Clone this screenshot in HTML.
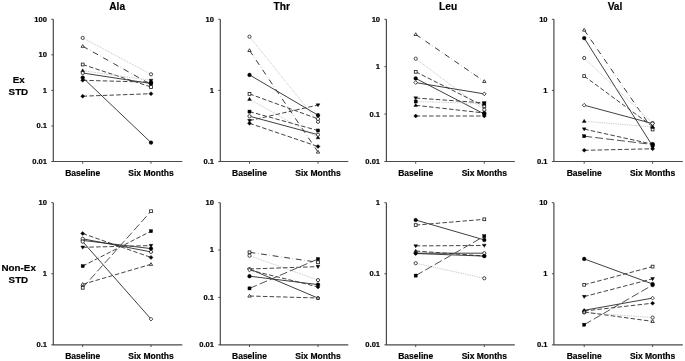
<!DOCTYPE html>
<html><head><meta charset="utf-8"><style>
html,body{margin:0;padding:0;background:#fff;}
body{width:685px;height:361px;overflow:hidden;}
svg{display:block;will-change:transform;filter:blur(0.3px);}
text{font-family:"Liberation Sans",sans-serif;fill:#000;stroke:#000;stroke-width:0.18px;}
.tk{font-size:7.6px;font-weight:bold;text-anchor:end;}
.xl{font-size:8.5px;font-weight:bold;text-anchor:middle;}
.ti{font-size:10.2px;font-weight:bold;text-anchor:middle;}
.rl{font-size:9.8px;font-weight:bold;text-anchor:middle;}
</style></head><body>
<svg width="685" height="361" viewBox="0 0 685 361">
<rect width="685" height="361" fill="#fff"/>
<path d="M53.30,19.30 V161.50 H182.30" fill="none" stroke="#4a4a4a" stroke-width="1.2"/>
<path d="M51.30,19.30 H53.30" stroke="#4a4a4a" stroke-width="1"/>
<text x="47.00" y="21.70" class="tk">100</text>
<path d="M51.30,54.85 H53.30" stroke="#4a4a4a" stroke-width="1"/>
<text x="47.00" y="57.25" class="tk">10</text>
<path d="M51.30,90.40 H53.30" stroke="#4a4a4a" stroke-width="1"/>
<text x="47.00" y="92.80" class="tk">1</text>
<path d="M51.30,125.95 H53.30" stroke="#4a4a4a" stroke-width="1"/>
<text x="47.00" y="128.35" class="tk">0.1</text>
<path d="M51.30,161.50 H53.30" stroke="#4a4a4a" stroke-width="1"/>
<text x="47.00" y="163.90" class="tk">0.01</text>
<path d="M82.70,161.50 V163.70" stroke="#4a4a4a" stroke-width="1"/>
<path d="M151.00,161.50 V163.70" stroke="#4a4a4a" stroke-width="1"/>
<text x="82.70" y="175.90" class="xl">Baseline</text>
<text x="151.00" y="175.90" class="xl">Six Months</text>
<line x1="82.70" y1="37.90" x2="151.00" y2="74.30" stroke="#b4b4b4" stroke-width="0.8" stroke-dasharray="0.9 0.9"/>
<line x1="82.70" y1="46.20" x2="151.00" y2="84.50" stroke="#3a3a3a" stroke-width="1" stroke-dasharray="5.8 2.8 0.3 2.8"/>
<line x1="82.70" y1="64.50" x2="151.00" y2="87.00" stroke="#444" stroke-width="1" stroke-dasharray="4.5 2.2"/>
<line x1="82.70" y1="70.70" x2="151.00" y2="80.40" stroke="#b4b4b4" stroke-width="0.8" stroke-dasharray="0.9 0.9"/>
<line x1="82.70" y1="73.00" x2="151.00" y2="83.50" stroke="#2a2a2a" stroke-width="0.9"/>
<line x1="82.70" y1="77.60" x2="151.00" y2="142.60" stroke="#2a2a2a" stroke-width="0.9"/>
<line x1="82.70" y1="80.30" x2="151.00" y2="82.20" stroke="#444" stroke-width="1" stroke-dasharray="4.5 2.2"/>
<line x1="82.70" y1="96.20" x2="151.00" y2="93.70" stroke="#444" stroke-width="1" stroke-dasharray="4.5 2.2"/>
<circle cx="82.70" cy="37.90" r="1.60" fill="#fff" stroke="#1a1a1a" stroke-width="0.8"/>
<circle cx="151.00" cy="74.30" r="1.60" fill="#fff" stroke="#1a1a1a" stroke-width="0.8"/>
<polygon points="82.70,44.52 84.40,47.32 81.00,47.32" fill="#fff" stroke="#1a1a1a" stroke-width="0.8"/>
<polygon points="151.00,86.18 152.70,83.38 149.30,83.38" fill="#fff" stroke="#1a1a1a" stroke-width="0.8"/>
<rect x="81.30" y="63.10" width="2.80" height="2.80" fill="#fff" stroke="#1a1a1a" stroke-width="0.8"/>
<rect x="149.60" y="85.60" width="2.80" height="2.80" fill="#fff" stroke="#1a1a1a" stroke-width="0.8"/>
<polygon points="82.70,68.84 84.60,71.94 80.80,71.94" fill="#000" stroke="#000" stroke-width="0.4"/>
<polygon points="151.00,82.26 152.90,79.16 149.10,79.16" fill="#000" stroke="#000" stroke-width="0.4"/>
<circle cx="82.70" cy="73.00" r="1.60" fill="#fff" stroke="#1a1a1a" stroke-width="0.8"/>
<rect x="149.45" y="81.95" width="3.10" height="3.10" fill="#000" stroke="#000" stroke-width="0.4"/>
<circle cx="82.70" cy="77.60" r="1.85" fill="#000" stroke="#000" stroke-width="0.4"/>
<circle cx="151.00" cy="142.60" r="1.85" fill="#000" stroke="#000" stroke-width="0.4"/>
<polygon points="82.70,78.30 84.70,80.30 82.70,82.30 80.70,80.30" fill="#000" stroke="#000" stroke-width="0.4"/>
<circle cx="151.00" cy="82.20" r="1.85" fill="#000" stroke="#000" stroke-width="0.4"/>
<polygon points="82.70,94.20 84.70,96.20 82.70,98.20 80.70,96.20" fill="#000" stroke="#000" stroke-width="0.4"/>
<polygon points="151.00,91.70 153.00,93.70 151.00,95.70 149.00,93.70" fill="#000" stroke="#000" stroke-width="0.4"/>
<path d="M220.30,19.30 V161.50 H348.30" fill="none" stroke="#4a4a4a" stroke-width="1.2"/>
<path d="M218.30,19.30 H220.30" stroke="#4a4a4a" stroke-width="1"/>
<text x="214.00" y="21.70" class="tk">10</text>
<path d="M218.30,90.40 H220.30" stroke="#4a4a4a" stroke-width="1"/>
<text x="214.00" y="92.80" class="tk">1</text>
<path d="M218.30,161.50 H220.30" stroke="#4a4a4a" stroke-width="1"/>
<text x="214.00" y="163.90" class="tk">0.1</text>
<path d="M249.50,161.50 V163.70" stroke="#4a4a4a" stroke-width="1"/>
<path d="M318.00,161.50 V163.70" stroke="#4a4a4a" stroke-width="1"/>
<text x="249.50" y="175.90" class="xl">Baseline</text>
<text x="318.00" y="175.90" class="xl">Six Months</text>
<line x1="249.50" y1="36.70" x2="318.00" y2="121.80" stroke="#b4b4b4" stroke-width="0.8" stroke-dasharray="0.9 0.9"/>
<line x1="249.50" y1="50.40" x2="318.00" y2="152.00" stroke="#3a3a3a" stroke-width="1" stroke-dasharray="5.8 2.8 0.3 2.8"/>
<line x1="249.50" y1="74.90" x2="318.00" y2="115.20" stroke="#2a2a2a" stroke-width="0.9"/>
<line x1="249.50" y1="93.90" x2="318.00" y2="118.90" stroke="#444" stroke-width="1" stroke-dasharray="4.5 2.2"/>
<line x1="249.50" y1="99.20" x2="318.00" y2="137.60" stroke="#b4b4b4" stroke-width="0.8" stroke-dasharray="0.9 0.9"/>
<line x1="249.50" y1="111.60" x2="318.00" y2="130.50" stroke="#444" stroke-width="1" stroke-dasharray="4.5 2.2"/>
<line x1="249.50" y1="116.20" x2="318.00" y2="134.70" stroke="#2a2a2a" stroke-width="0.9"/>
<line x1="249.50" y1="120.60" x2="318.00" y2="105.00" stroke="#444" stroke-width="1" stroke-dasharray="4.5 2.2"/>
<line x1="249.50" y1="123.30" x2="318.00" y2="146.50" stroke="#444" stroke-width="1" stroke-dasharray="4.5 2.2"/>
<circle cx="249.50" cy="36.70" r="1.60" fill="#fff" stroke="#1a1a1a" stroke-width="0.8"/>
<circle cx="318.00" cy="121.80" r="1.60" fill="#fff" stroke="#1a1a1a" stroke-width="0.8"/>
<polygon points="249.50,48.72 251.20,51.52 247.80,51.52" fill="#fff" stroke="#1a1a1a" stroke-width="0.8"/>
<polygon points="318.00,150.32 319.70,153.12 316.30,153.12" fill="#fff" stroke="#1a1a1a" stroke-width="0.8"/>
<circle cx="249.50" cy="74.90" r="1.85" fill="#000" stroke="#000" stroke-width="0.4"/>
<circle cx="318.00" cy="115.20" r="1.85" fill="#000" stroke="#000" stroke-width="0.4"/>
<rect x="248.10" y="92.50" width="2.80" height="2.80" fill="#fff" stroke="#1a1a1a" stroke-width="0.8"/>
<circle cx="318.00" cy="118.90" r="1.60" fill="#fff" stroke="#1a1a1a" stroke-width="0.8"/>
<polygon points="249.50,97.34 251.40,100.44 247.60,100.44" fill="#000" stroke="#000" stroke-width="0.4"/>
<polygon points="318.00,135.74 319.90,138.84 316.10,138.84" fill="#000" stroke="#000" stroke-width="0.4"/>
<rect x="247.95" y="110.05" width="3.10" height="3.10" fill="#000" stroke="#000" stroke-width="0.4"/>
<rect x="316.45" y="128.95" width="3.10" height="3.10" fill="#000" stroke="#000" stroke-width="0.4"/>
<circle cx="249.50" cy="116.20" r="1.60" fill="#fff" stroke="#1a1a1a" stroke-width="0.8"/>
<circle cx="318.00" cy="134.70" r="1.60" fill="#fff" stroke="#1a1a1a" stroke-width="0.8"/>
<polygon points="249.50,122.46 251.40,119.36 247.60,119.36" fill="#000" stroke="#000" stroke-width="0.4"/>
<polygon points="318.00,106.86 319.90,103.76 316.10,103.76" fill="#000" stroke="#000" stroke-width="0.4"/>
<polygon points="249.50,121.30 251.50,123.30 249.50,125.30 247.50,123.30" fill="#000" stroke="#000" stroke-width="0.4"/>
<polygon points="318.00,144.50 320.00,146.50 318.00,148.50 316.00,146.50" fill="#000" stroke="#000" stroke-width="0.4"/>
<path d="M386.40,19.30 V161.50 H514.80" fill="none" stroke="#4a4a4a" stroke-width="1.2"/>
<path d="M384.40,19.30 H386.40" stroke="#4a4a4a" stroke-width="1"/>
<text x="380.10" y="21.70" class="tk">10</text>
<path d="M384.40,66.70 H386.40" stroke="#4a4a4a" stroke-width="1"/>
<text x="380.10" y="69.10" class="tk">1</text>
<path d="M384.40,114.10 H386.40" stroke="#4a4a4a" stroke-width="1"/>
<text x="380.10" y="116.50" class="tk">0.1</text>
<path d="M384.40,161.50 H386.40" stroke="#4a4a4a" stroke-width="1"/>
<text x="380.10" y="163.90" class="tk">0.01</text>
<path d="M415.70,161.50 V163.70" stroke="#4a4a4a" stroke-width="1"/>
<path d="M484.30,161.50 V163.70" stroke="#4a4a4a" stroke-width="1"/>
<text x="415.70" y="175.90" class="xl">Baseline</text>
<text x="484.30" y="175.90" class="xl">Six Months</text>
<line x1="415.70" y1="34.40" x2="484.30" y2="81.40" stroke="#3a3a3a" stroke-width="1" stroke-dasharray="5.8 2.8 0.3 2.8"/>
<line x1="415.70" y1="58.70" x2="484.30" y2="109.80" stroke="#b4b4b4" stroke-width="0.8" stroke-dasharray="0.9 0.9"/>
<line x1="415.70" y1="71.80" x2="484.30" y2="106.30" stroke="#444" stroke-width="1" stroke-dasharray="4.5 2.2"/>
<line x1="415.70" y1="78.40" x2="484.30" y2="114.00" stroke="#2a2a2a" stroke-width="0.9"/>
<line x1="415.70" y1="82.60" x2="484.30" y2="93.90" stroke="#2a2a2a" stroke-width="0.9"/>
<line x1="415.70" y1="98.00" x2="484.30" y2="102.90" stroke="#444" stroke-width="1" stroke-dasharray="4.5 2.2"/>
<line x1="415.70" y1="101.50" x2="484.30" y2="103.50" stroke="#b4b4b4" stroke-width="0.8" stroke-dasharray="0.9 0.9"/>
<line x1="415.70" y1="105.30" x2="484.30" y2="113.00" stroke="#444" stroke-width="1" stroke-dasharray="4.5 2.2"/>
<line x1="415.70" y1="116.00" x2="484.30" y2="116.00" stroke="#444" stroke-width="1" stroke-dasharray="4.5 2.2"/>
<polygon points="415.70,32.72 417.40,35.52 414.00,35.52" fill="#fff" stroke="#1a1a1a" stroke-width="0.8"/>
<polygon points="484.30,79.72 486.00,82.52 482.60,82.52" fill="#fff" stroke="#1a1a1a" stroke-width="0.8"/>
<circle cx="415.70" cy="58.70" r="1.60" fill="#fff" stroke="#1a1a1a" stroke-width="0.8"/>
<circle cx="484.30" cy="109.80" r="1.60" fill="#fff" stroke="#1a1a1a" stroke-width="0.8"/>
<rect x="414.30" y="70.40" width="2.80" height="2.80" fill="#fff" stroke="#1a1a1a" stroke-width="0.8"/>
<rect x="482.90" y="104.90" width="2.80" height="2.80" fill="#fff" stroke="#1a1a1a" stroke-width="0.8"/>
<circle cx="415.70" cy="78.40" r="1.85" fill="#000" stroke="#000" stroke-width="0.4"/>
<circle cx="484.30" cy="114.00" r="1.85" fill="#000" stroke="#000" stroke-width="0.4"/>
<polygon points="415.70,80.75 417.55,82.60 415.70,84.45 413.85,82.60" fill="#fff" stroke="#1a1a1a" stroke-width="0.8"/>
<polygon points="484.30,92.05 486.15,93.90 484.30,95.75 482.45,93.90" fill="#fff" stroke="#1a1a1a" stroke-width="0.8"/>
<polygon points="415.70,99.86 417.60,96.76 413.80,96.76" fill="#000" stroke="#000" stroke-width="0.4"/>
<polygon points="484.30,104.76 486.20,101.66 482.40,101.66" fill="#000" stroke="#000" stroke-width="0.4"/>
<rect x="414.15" y="99.95" width="3.10" height="3.10" fill="#000" stroke="#000" stroke-width="0.4"/>
<rect x="482.75" y="101.95" width="3.10" height="3.10" fill="#000" stroke="#000" stroke-width="0.4"/>
<polygon points="415.70,103.44 417.60,106.54 413.80,106.54" fill="#000" stroke="#000" stroke-width="0.4"/>
<circle cx="484.30" cy="113.00" r="1.85" fill="#000" stroke="#000" stroke-width="0.4"/>
<polygon points="415.70,114.00 417.70,116.00 415.70,118.00 413.70,116.00" fill="#000" stroke="#000" stroke-width="0.4"/>
<polygon points="484.30,114.00 486.30,116.00 484.30,118.00 482.30,116.00" fill="#000" stroke="#000" stroke-width="0.4"/>
<path d="M553.90,19.30 V161.50 H682.80" fill="none" stroke="#4a4a4a" stroke-width="1.2"/>
<path d="M551.90,19.30 H553.90" stroke="#4a4a4a" stroke-width="1"/>
<text x="547.60" y="21.70" class="tk">10</text>
<path d="M551.90,90.40 H553.90" stroke="#4a4a4a" stroke-width="1"/>
<text x="547.60" y="92.80" class="tk">1</text>
<path d="M551.90,161.50 H553.90" stroke="#4a4a4a" stroke-width="1"/>
<text x="547.60" y="163.90" class="tk">0.1</text>
<path d="M584.20,161.50 V163.70" stroke="#4a4a4a" stroke-width="1"/>
<path d="M652.60,161.50 V163.70" stroke="#4a4a4a" stroke-width="1"/>
<text x="584.20" y="175.90" class="xl">Baseline</text>
<text x="652.60" y="175.90" class="xl">Six Months</text>
<line x1="584.20" y1="30.00" x2="652.60" y2="129.50" stroke="#3a3a3a" stroke-width="1" stroke-dasharray="5.8 2.8 0.3 2.8"/>
<line x1="584.20" y1="38.10" x2="652.60" y2="146.00" stroke="#2a2a2a" stroke-width="0.9"/>
<line x1="584.20" y1="58.00" x2="652.60" y2="123.00" stroke="#b4b4b4" stroke-width="0.8" stroke-dasharray="0.9 0.9"/>
<line x1="584.20" y1="76.10" x2="652.60" y2="126.50" stroke="#444" stroke-width="1" stroke-dasharray="4.5 2.2"/>
<line x1="584.20" y1="105.20" x2="652.60" y2="123.60" stroke="#2a2a2a" stroke-width="0.9"/>
<line x1="584.20" y1="121.20" x2="652.60" y2="127.00" stroke="#b4b4b4" stroke-width="0.8" stroke-dasharray="0.9 0.9"/>
<line x1="584.20" y1="129.10" x2="652.60" y2="144.20" stroke="#444" stroke-width="1" stroke-dasharray="4.5 2.2"/>
<line x1="584.20" y1="136.20" x2="652.60" y2="144.50" stroke="#484848" stroke-width="0.95" stroke-dasharray="8 3"/>
<line x1="584.20" y1="150.30" x2="652.60" y2="148.80" stroke="#444" stroke-width="1" stroke-dasharray="4.5 2.2"/>
<polygon points="584.20,28.32 585.90,31.12 582.50,31.12" fill="#fff" stroke="#1a1a1a" stroke-width="0.8"/>
<rect x="651.20" y="128.10" width="2.80" height="2.80" fill="#fff" stroke="#1a1a1a" stroke-width="0.8"/>
<circle cx="584.20" cy="38.10" r="1.85" fill="#000" stroke="#000" stroke-width="0.4"/>
<circle cx="652.60" cy="146.00" r="1.85" fill="#000" stroke="#000" stroke-width="0.4"/>
<circle cx="584.20" cy="58.00" r="1.60" fill="#fff" stroke="#1a1a1a" stroke-width="0.8"/>
<circle cx="652.60" cy="123.00" r="1.60" fill="#fff" stroke="#1a1a1a" stroke-width="0.8"/>
<rect x="582.80" y="74.70" width="2.80" height="2.80" fill="#fff" stroke="#1a1a1a" stroke-width="0.8"/>
<polygon points="652.60,124.82 654.30,127.62 650.90,127.62" fill="#fff" stroke="#1a1a1a" stroke-width="0.8"/>
<polygon points="584.20,103.35 586.05,105.20 584.20,107.05 582.35,105.20" fill="#fff" stroke="#1a1a1a" stroke-width="0.8"/>
<polygon points="652.60,121.75 654.45,123.60 652.60,125.45 650.75,123.60" fill="#fff" stroke="#1a1a1a" stroke-width="0.8"/>
<polygon points="584.20,119.34 586.10,122.44 582.30,122.44" fill="#000" stroke="#000" stroke-width="0.4"/>
<polygon points="652.60,125.14 654.50,128.24 650.70,128.24" fill="#000" stroke="#000" stroke-width="0.4"/>
<polygon points="584.20,130.96 586.10,127.86 582.30,127.86" fill="#000" stroke="#000" stroke-width="0.4"/>
<circle cx="652.60" cy="144.20" r="1.85" fill="#000" stroke="#000" stroke-width="0.4"/>
<rect x="582.65" y="134.65" width="3.10" height="3.10" fill="#000" stroke="#000" stroke-width="0.4"/>
<rect x="651.05" y="142.95" width="3.10" height="3.10" fill="#000" stroke="#000" stroke-width="0.4"/>
<polygon points="584.20,148.30 586.20,150.30 584.20,152.30 582.20,150.30" fill="#000" stroke="#000" stroke-width="0.4"/>
<polygon points="652.60,146.80 654.60,148.80 652.60,150.80 650.60,148.80" fill="#000" stroke="#000" stroke-width="0.4"/>
<path d="M53.30,202.70 V344.80 H182.30" fill="none" stroke="#4a4a4a" stroke-width="1.2"/>
<path d="M51.30,202.70 H53.30" stroke="#4a4a4a" stroke-width="1"/>
<text x="47.00" y="205.10" class="tk">10</text>
<path d="M51.30,273.75 H53.30" stroke="#4a4a4a" stroke-width="1"/>
<text x="47.00" y="276.15" class="tk">1</text>
<path d="M51.30,344.80 H53.30" stroke="#4a4a4a" stroke-width="1"/>
<text x="47.00" y="347.20" class="tk">0.1</text>
<path d="M82.70,344.80 V347.00" stroke="#4a4a4a" stroke-width="1"/>
<path d="M151.00,344.80 V347.00" stroke="#4a4a4a" stroke-width="1"/>
<text x="82.70" y="359.20" class="xl">Baseline</text>
<text x="151.00" y="359.20" class="xl">Six Months</text>
<line x1="82.70" y1="233.50" x2="151.00" y2="257.40" stroke="#444" stroke-width="1" stroke-dasharray="4.5 2.2"/>
<line x1="82.70" y1="240.40" x2="151.00" y2="248.60" stroke="#2a2a2a" stroke-width="0.9"/>
<line x1="82.70" y1="238.80" x2="151.00" y2="251.90" stroke="#2a2a2a" stroke-width="0.9"/>
<line x1="82.70" y1="241.60" x2="151.00" y2="319.10" stroke="#2a2a2a" stroke-width="0.9"/>
<line x1="82.70" y1="247.30" x2="151.00" y2="245.60" stroke="#444" stroke-width="1" stroke-dasharray="4.5 2.2"/>
<line x1="82.70" y1="266.10" x2="151.00" y2="231.20" stroke="#444" stroke-width="1" stroke-dasharray="4.5 2.2"/>
<line x1="82.70" y1="284.30" x2="151.00" y2="264.30" stroke="#444" stroke-width="1" stroke-dasharray="4.5 2.2"/>
<line x1="82.70" y1="287.80" x2="151.00" y2="211.20" stroke="#484848" stroke-width="0.95" stroke-dasharray="8 3"/>
<polygon points="82.70,231.50 84.70,233.50 82.70,235.50 80.70,233.50" fill="#000" stroke="#000" stroke-width="0.4"/>
<polygon points="151.00,255.40 153.00,257.40 151.00,259.40 149.00,257.40" fill="#000" stroke="#000" stroke-width="0.4"/>
<circle cx="82.70" cy="240.40" r="1.60" fill="#fff" stroke="#1a1a1a" stroke-width="0.8"/>
<circle cx="151.00" cy="248.60" r="1.85" fill="#000" stroke="#000" stroke-width="0.4"/>
<circle cx="82.70" cy="238.80" r="1.60" fill="#fff" stroke="#1a1a1a" stroke-width="0.8"/>
<circle cx="151.00" cy="251.90" r="1.60" fill="#fff" stroke="#1a1a1a" stroke-width="0.8"/>
<circle cx="82.70" cy="241.60" r="1.60" fill="#fff" stroke="#1a1a1a" stroke-width="0.8"/>
<polygon points="151.00,317.25 152.85,319.10 151.00,320.95 149.15,319.10" fill="#fff" stroke="#1a1a1a" stroke-width="0.8"/>
<polygon points="82.70,249.16 84.60,246.06 80.80,246.06" fill="#000" stroke="#000" stroke-width="0.4"/>
<polygon points="151.00,247.46 152.90,244.36 149.10,244.36" fill="#000" stroke="#000" stroke-width="0.4"/>
<rect x="81.15" y="264.55" width="3.10" height="3.10" fill="#000" stroke="#000" stroke-width="0.4"/>
<rect x="149.45" y="229.65" width="3.10" height="3.10" fill="#000" stroke="#000" stroke-width="0.4"/>
<polygon points="82.70,282.62 84.40,285.42 81.00,285.42" fill="#fff" stroke="#1a1a1a" stroke-width="0.8"/>
<polygon points="151.00,262.62 152.70,265.42 149.30,265.42" fill="#fff" stroke="#1a1a1a" stroke-width="0.8"/>
<rect x="81.30" y="286.40" width="2.80" height="2.80" fill="#fff" stroke="#1a1a1a" stroke-width="0.8"/>
<rect x="149.60" y="209.80" width="2.80" height="2.80" fill="#fff" stroke="#1a1a1a" stroke-width="0.8"/>
<path d="M220.30,202.70 V344.80 H348.30" fill="none" stroke="#4a4a4a" stroke-width="1.2"/>
<path d="M218.30,202.70 H220.30" stroke="#4a4a4a" stroke-width="1"/>
<text x="214.00" y="205.10" class="tk">10</text>
<path d="M218.30,250.07 H220.30" stroke="#4a4a4a" stroke-width="1"/>
<text x="214.00" y="252.47" class="tk">1</text>
<path d="M218.30,297.43 H220.30" stroke="#4a4a4a" stroke-width="1"/>
<text x="214.00" y="299.83" class="tk">0.1</text>
<path d="M218.30,344.80 H220.30" stroke="#4a4a4a" stroke-width="1"/>
<text x="214.00" y="347.20" class="tk">0.01</text>
<path d="M249.50,344.80 V347.00" stroke="#4a4a4a" stroke-width="1"/>
<path d="M318.00,344.80 V347.00" stroke="#4a4a4a" stroke-width="1"/>
<text x="249.50" y="359.20" class="xl">Baseline</text>
<text x="318.00" y="359.20" class="xl">Six Months</text>
<line x1="249.50" y1="252.30" x2="318.00" y2="262.30" stroke="#3a3a3a" stroke-width="1" stroke-dasharray="5.8 2.8 0.3 2.8"/>
<line x1="249.50" y1="255.70" x2="318.00" y2="280.10" stroke="#b4b4b4" stroke-width="0.8" stroke-dasharray="0.9 0.9"/>
<line x1="249.50" y1="269.00" x2="318.00" y2="266.60" stroke="#444" stroke-width="1" stroke-dasharray="4.5 2.2"/>
<line x1="249.50" y1="269.00" x2="318.00" y2="298.10" stroke="#2a2a2a" stroke-width="0.9"/>
<line x1="249.50" y1="276.20" x2="318.00" y2="284.60" stroke="#2a2a2a" stroke-width="0.9"/>
<line x1="249.50" y1="270.00" x2="318.00" y2="286.90" stroke="#444" stroke-width="1" stroke-dasharray="4.5 2.2"/>
<line x1="249.50" y1="288.40" x2="318.00" y2="259.00" stroke="#484848" stroke-width="0.95" stroke-dasharray="8 3"/>
<line x1="249.50" y1="296.00" x2="318.00" y2="298.00" stroke="#444" stroke-width="1" stroke-dasharray="4.5 2.2"/>
<rect x="248.10" y="250.90" width="2.80" height="2.80" fill="#fff" stroke="#1a1a1a" stroke-width="0.8"/>
<rect x="316.60" y="260.90" width="2.80" height="2.80" fill="#fff" stroke="#1a1a1a" stroke-width="0.8"/>
<circle cx="249.50" cy="255.70" r="1.60" fill="#fff" stroke="#1a1a1a" stroke-width="0.8"/>
<circle cx="318.00" cy="280.10" r="1.60" fill="#fff" stroke="#1a1a1a" stroke-width="0.8"/>
<polygon points="249.50,267.15 251.35,269.00 249.50,270.85 247.65,269.00" fill="#fff" stroke="#1a1a1a" stroke-width="0.8"/>
<polygon points="318.00,268.46 319.90,265.36 316.10,265.36" fill="#000" stroke="#000" stroke-width="0.4"/>
<polygon points="249.50,267.15 251.35,269.00 249.50,270.85 247.65,269.00" fill="#fff" stroke="#1a1a1a" stroke-width="0.8"/>
<circle cx="318.00" cy="298.10" r="1.60" fill="#fff" stroke="#1a1a1a" stroke-width="0.8"/>
<circle cx="249.50" cy="276.20" r="1.85" fill="#000" stroke="#000" stroke-width="0.4"/>
<circle cx="318.00" cy="284.60" r="1.85" fill="#000" stroke="#000" stroke-width="0.4"/>
<polygon points="249.50,268.15 251.35,270.00 249.50,271.85 247.65,270.00" fill="#fff" stroke="#1a1a1a" stroke-width="0.8"/>
<polygon points="318.00,284.90 320.00,286.90 318.00,288.90 316.00,286.90" fill="#000" stroke="#000" stroke-width="0.4"/>
<rect x="247.95" y="286.85" width="3.10" height="3.10" fill="#000" stroke="#000" stroke-width="0.4"/>
<rect x="316.45" y="257.45" width="3.10" height="3.10" fill="#000" stroke="#000" stroke-width="0.4"/>
<polygon points="249.50,294.32 251.20,297.12 247.80,297.12" fill="#fff" stroke="#1a1a1a" stroke-width="0.8"/>
<polygon points="318.00,296.32 319.70,299.12 316.30,299.12" fill="#fff" stroke="#1a1a1a" stroke-width="0.8"/>
<path d="M386.40,202.70 V344.80 H514.80" fill="none" stroke="#4a4a4a" stroke-width="1.2"/>
<path d="M384.40,202.70 H386.40" stroke="#4a4a4a" stroke-width="1"/>
<text x="380.10" y="205.10" class="tk">1</text>
<path d="M384.40,273.75 H386.40" stroke="#4a4a4a" stroke-width="1"/>
<text x="380.10" y="276.15" class="tk">0.1</text>
<path d="M384.40,344.80 H386.40" stroke="#4a4a4a" stroke-width="1"/>
<text x="380.10" y="347.20" class="tk">0.01</text>
<path d="M415.70,344.80 V347.00" stroke="#4a4a4a" stroke-width="1"/>
<path d="M484.30,344.80 V347.00" stroke="#4a4a4a" stroke-width="1"/>
<text x="415.70" y="359.20" class="xl">Baseline</text>
<text x="484.30" y="359.20" class="xl">Six Months</text>
<line x1="415.70" y1="220.00" x2="484.30" y2="239.90" stroke="#2a2a2a" stroke-width="0.9"/>
<line x1="415.70" y1="225.10" x2="484.30" y2="219.30" stroke="#444" stroke-width="1" stroke-dasharray="4.5 2.2"/>
<line x1="415.70" y1="245.90" x2="484.30" y2="245.50" stroke="#444" stroke-width="1" stroke-dasharray="4.5 2.2"/>
<line x1="415.70" y1="251.00" x2="484.30" y2="256.00" stroke="#444" stroke-width="1" stroke-dasharray="4.5 2.2"/>
<line x1="415.70" y1="253.20" x2="484.30" y2="253.20" stroke="#2a2a2a" stroke-width="0.9"/>
<line x1="415.70" y1="253.50" x2="484.30" y2="256.10" stroke="#2a2a2a" stroke-width="0.9"/>
<line x1="415.70" y1="263.20" x2="484.30" y2="278.30" stroke="#b4b4b4" stroke-width="0.8" stroke-dasharray="0.9 0.9"/>
<line x1="415.70" y1="275.60" x2="484.30" y2="236.20" stroke="#484848" stroke-width="0.95" stroke-dasharray="8 3"/>
<circle cx="415.70" cy="220.00" r="1.85" fill="#000" stroke="#000" stroke-width="0.4"/>
<circle cx="484.30" cy="239.90" r="1.85" fill="#000" stroke="#000" stroke-width="0.4"/>
<rect x="414.30" y="223.70" width="2.80" height="2.80" fill="#fff" stroke="#1a1a1a" stroke-width="0.8"/>
<rect x="482.90" y="217.90" width="2.80" height="2.80" fill="#fff" stroke="#1a1a1a" stroke-width="0.8"/>
<polygon points="415.70,247.76 417.60,244.66 413.80,244.66" fill="#000" stroke="#000" stroke-width="0.4"/>
<polygon points="484.30,247.36 486.20,244.26 482.40,244.26" fill="#000" stroke="#000" stroke-width="0.4"/>
<polygon points="415.70,249.14 417.60,252.24 413.80,252.24" fill="#000" stroke="#000" stroke-width="0.4"/>
<polygon points="484.30,254.00 486.30,256.00 484.30,258.00 482.30,256.00" fill="#000" stroke="#000" stroke-width="0.4"/>
<circle cx="415.70" cy="253.20" r="1.60" fill="#fff" stroke="#1a1a1a" stroke-width="0.8"/>
<circle cx="484.30" cy="253.20" r="1.60" fill="#fff" stroke="#1a1a1a" stroke-width="0.8"/>
<polygon points="415.70,251.50 417.70,253.50 415.70,255.50 413.70,253.50" fill="#000" stroke="#000" stroke-width="0.4"/>
<circle cx="484.30" cy="256.10" r="1.85" fill="#000" stroke="#000" stroke-width="0.4"/>
<circle cx="415.70" cy="263.20" r="1.60" fill="#fff" stroke="#1a1a1a" stroke-width="0.8"/>
<circle cx="484.30" cy="278.30" r="1.60" fill="#fff" stroke="#1a1a1a" stroke-width="0.8"/>
<rect x="414.15" y="274.05" width="3.10" height="3.10" fill="#000" stroke="#000" stroke-width="0.4"/>
<rect x="482.75" y="234.65" width="3.10" height="3.10" fill="#000" stroke="#000" stroke-width="0.4"/>
<path d="M553.90,202.70 V344.80 H682.80" fill="none" stroke="#4a4a4a" stroke-width="1.2"/>
<path d="M551.90,202.70 H553.90" stroke="#4a4a4a" stroke-width="1"/>
<text x="547.60" y="205.10" class="tk">10</text>
<path d="M551.90,273.75 H553.90" stroke="#4a4a4a" stroke-width="1"/>
<text x="547.60" y="276.15" class="tk">1</text>
<path d="M551.90,344.80 H553.90" stroke="#4a4a4a" stroke-width="1"/>
<text x="547.60" y="347.20" class="tk">0.1</text>
<path d="M584.20,344.80 V347.00" stroke="#4a4a4a" stroke-width="1"/>
<path d="M652.60,344.80 V347.00" stroke="#4a4a4a" stroke-width="1"/>
<text x="584.20" y="359.20" class="xl">Baseline</text>
<text x="652.60" y="359.20" class="xl">Six Months</text>
<line x1="584.20" y1="258.90" x2="652.60" y2="284.00" stroke="#2a2a2a" stroke-width="0.9"/>
<line x1="584.20" y1="284.80" x2="652.60" y2="266.60" stroke="#444" stroke-width="1" stroke-dasharray="4.5 2.2"/>
<line x1="584.20" y1="296.60" x2="652.60" y2="278.80" stroke="#444" stroke-width="1" stroke-dasharray="4.5 2.2"/>
<line x1="584.20" y1="310.30" x2="652.60" y2="298.10" stroke="#2a2a2a" stroke-width="0.9"/>
<line x1="584.20" y1="311.00" x2="652.60" y2="303.20" stroke="#444" stroke-width="1" stroke-dasharray="4.5 2.2"/>
<line x1="584.20" y1="312.50" x2="652.60" y2="317.60" stroke="#b4b4b4" stroke-width="0.8" stroke-dasharray="0.9 0.9"/>
<line x1="584.20" y1="312.00" x2="652.60" y2="321.40" stroke="#444" stroke-width="1" stroke-dasharray="4.5 2.2"/>
<line x1="584.20" y1="324.70" x2="652.60" y2="285.00" stroke="#484848" stroke-width="0.95" stroke-dasharray="8 3"/>
<circle cx="584.20" cy="258.90" r="1.85" fill="#000" stroke="#000" stroke-width="0.4"/>
<circle cx="652.60" cy="284.00" r="1.85" fill="#000" stroke="#000" stroke-width="0.4"/>
<rect x="582.80" y="283.40" width="2.80" height="2.80" fill="#fff" stroke="#1a1a1a" stroke-width="0.8"/>
<rect x="651.20" y="265.20" width="2.80" height="2.80" fill="#fff" stroke="#1a1a1a" stroke-width="0.8"/>
<polygon points="584.20,298.46 586.10,295.36 582.30,295.36" fill="#000" stroke="#000" stroke-width="0.4"/>
<polygon points="652.60,280.66 654.50,277.56 650.70,277.56" fill="#000" stroke="#000" stroke-width="0.4"/>
<polygon points="584.20,308.44 586.10,311.54 582.30,311.54" fill="#000" stroke="#000" stroke-width="0.4"/>
<polygon points="652.60,296.25 654.45,298.10 652.60,299.95 650.75,298.10" fill="#fff" stroke="#1a1a1a" stroke-width="0.8"/>
<polygon points="584.20,309.00 586.20,311.00 584.20,313.00 582.20,311.00" fill="#000" stroke="#000" stroke-width="0.4"/>
<polygon points="652.60,301.20 654.60,303.20 652.60,305.20 650.60,303.20" fill="#000" stroke="#000" stroke-width="0.4"/>
<circle cx="584.20" cy="312.50" r="1.60" fill="#fff" stroke="#1a1a1a" stroke-width="0.8"/>
<circle cx="652.60" cy="317.60" r="1.60" fill="#fff" stroke="#1a1a1a" stroke-width="0.8"/>
<polygon points="584.20,310.32 585.90,313.12 582.50,313.12" fill="#fff" stroke="#1a1a1a" stroke-width="0.8"/>
<polygon points="652.60,319.72 654.30,322.52 650.90,322.52" fill="#fff" stroke="#1a1a1a" stroke-width="0.8"/>
<rect x="582.65" y="323.15" width="3.10" height="3.10" fill="#000" stroke="#000" stroke-width="0.4"/>
<circle cx="652.60" cy="285.00" r="1.85" fill="#000" stroke="#000" stroke-width="0.4"/>
<text x="117.20" y="9.8" class="ti">Ala</text>
<text x="281.80" y="9.8" class="ti">Thr</text>
<text x="448.10" y="9.8" class="ti">Leu</text>
<text x="615.00" y="9.8" class="ti">Val</text>
<text x="18.8" y="82.7" class="rl">Ex</text>
<text x="18.4" y="94.6" class="rl">STD</text>
<text x="18.7" y="271.4" class="rl">Non-Ex</text>
<text x="18.4" y="283.3" class="rl">STD</text>
</svg>
</body></html>
